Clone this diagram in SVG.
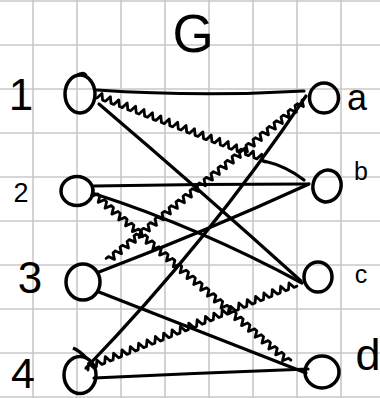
<svg xmlns="http://www.w3.org/2000/svg" width="380" height="398" viewBox="0 0 380 398">
<style>
.grid line{stroke:#c8c8c8;stroke-width:1.6}
.node ellipse,.tick{fill:none;stroke:#000;stroke-width:3.5}
.edge{fill:none;stroke:#000;stroke-width:3.2;stroke-linecap:round}
.wavy{fill:none;stroke:#000;stroke-width:2.8;stroke-linejoin:round;stroke-linecap:round}
.lbl{font-family:"Liberation Sans",Arial,sans-serif;fill:#000;text-anchor:middle}
</style>
<rect width="380" height="398" fill="#fff"/>
<g class="grid">
<line x1="33" y1="0" x2="33" y2="398"/><line x1="77" y1="0" x2="77" y2="398"/><line x1="121" y1="0" x2="121" y2="398"/><line x1="165" y1="0" x2="165" y2="398"/><line x1="209" y1="0" x2="209" y2="398"/><line x1="253" y1="0" x2="253" y2="398"/><line x1="297" y1="0" x2="297" y2="398"/><line x1="341" y1="0" x2="341" y2="398"/>
<line x1="0" y1="1" x2="380" y2="1"/><line x1="0" y1="45" x2="380" y2="45"/><line x1="0" y1="89" x2="380" y2="89"/><line x1="0" y1="133" x2="380" y2="133"/><line x1="0" y1="177" x2="380" y2="177"/><line x1="0" y1="221" x2="380" y2="221"/><line x1="0" y1="265" x2="380" y2="265"/><line x1="0" y1="309" x2="380" y2="309"/><line x1="0" y1="353" x2="380" y2="353"/><line x1="0" y1="397" x2="380" y2="397"/>
</g>
<text class="lbl" x="193" y="52" font-size="53">G</text>
<g id="connectors">
<path class="edge" d="M97,90 Q200,97 304,91"/>
<path class="edge" d="M99,104 Q200,190 301,281"/>
<path class="edge" d="M94,186 Q200,184 308,184"/>
<path class="edge" d="M95,194 Q198,227 302,283"/>
<path class="edge" d="M309,184 Q204,232 99,272"/>
<path class="edge" d="M306,96 Q208,242 86,368"/>
<path class="edge" d="M99,292 Q202,332 306,373"/>
<path class="edge" d="M94,378 Q200,373 308,369"/>
<path class="wavy" transform="translate(97,98) rotate(20.85)" d="M0,0 l3,-6 3,6 3,0 3,-6 3,6 3,0 3,-6 3,6 3,0 3,-6 3,6 3,0 3,-6 3,6 3,0 3,-6 3,6 3,0 3,-6 3,6 3,0 3,-6 3,6 3,0 3,-6 3,6 3,0 3,-6 3,6 3,0 3,-6 3,6 3,0 3,-6 3,6 3,0 3,-6 3,6 3,0 3,-6 3,6 3,0 3,-6 3,6 3,0 3,-6 3,6 3,0 3,-6 3,6 3,0 3,-6 3,6 3,0 3,-6 3,6 3,0 3,-6 3,6 3,0"/>
<path class="edge" d="M264,161 Q286,166 304,180"/>
<path class="wavy" transform="translate(302,100) rotate(141.03)" d="M0,0 l3,-6 3,6 3,0 3,-6 3,6 3,0 3,-6 3,6 3,0 3,-6 3,6 3,0 3,-6 3,6 3,0 3,-6 3,6 3,0 3,-6 3,6 3,0 3,-6 3,6 3,0 3,-6 3,6 3,0 3,-6 3,6 3,0 3,-6 3,6 3,0 3,-6 3,6 3,0 3,-6 3,6 3,0 3,-6 3,6 3,0 3,-6 3,6 3,0 3,-6 3,6 3,0 3,-6 3,6 3,0 3,-6 3,6 3,0 3,-6 3,6 3,0 3,-6 3,6 3,0 3,-6 3,6 3,0 3,-6 3,6 3,0 3,-6 3,6 3,0 3,-6 3,6 3,0 3,-6 3,6 3,0 3,-6 3,6 3,0 3,-6 3,6 3,0 3,-6 3,6 3,0"/>
<path class="wavy" transform="translate(93,190) rotate(40.69)" d="M0,0 l3,6 3,-6 3,0 3,6 3,-6 3,0 3,6 3,-6 3,0 3,6 3,-6 3,0 3,6 3,-6 3,0 3,6 3,-6 3,0 3,6 3,-6 3,0 3,6 3,-6 3,0 3,6 3,-6 3,0 3,6 3,-6 3,0 3,6 3,-6 3,0 3,6 3,-6 3,0 3,6 3,-6 3,0 3,6 3,-6 3,0 3,6 3,-6 3,0 3,6 3,-6 3,0 3,6 3,-6 3,0 3,6 3,-6 3,0 3,6 3,-6 3,0 3,6 3,-6 3,0 3,6 3,-6 3,0 3,6 3,-6 3,0 3,6 3,-6 3,0 3,6 3,-6 3,0 3,6 3,-6 3,0 3,6 3,-6 3,0 3,6 3,-6 3,0 3,6 3,-6 3,0 3,6 3,-6 3,0"/>
<path class="wavy" transform="translate(88,370) rotate(-21.85)" d="M0,0 l3,-6 3,6 3,0 3,-6 3,6 3,0 3,-6 3,6 3,0 3,-6 3,6 3,0 3,-6 3,6 3,0 3,-6 3,6 3,0 3,-6 3,6 3,0 3,-6 3,6 3,0 3,-6 3,6 3,0 3,-6 3,6 3,0 3,-6 3,6 3,0 3,-6 3,6 3,0 3,-6 3,6 3,0 3,-6 3,6 3,0 3,-6 3,6 3,0 3,-6 3,6 3,0 3,-6 3,6 3,0 3,-6 3,6 3,0 3,-6 3,6 3,0 3,-6 3,6 3,0 3,-6 3,6 3,0 3,-6 3,6 3,0 3,-6 3,6 3,0 3,-6 3,6 3,0 3,-6 3,6 3,0"/>
</g>
<g id="node-1" class="node"><ellipse cx="80" cy="94" rx="15" ry="19"/><path class="tick" d="M76,76 Q84,71 86,76"/><text class="lbl" x="21" y="110" font-size="44">1</text></g>
<g id="node-2" class="node"><ellipse cx="77" cy="191" rx="16" ry="14.5"/><text class="lbl" x="21" y="202" font-size="27">2</text></g>
<g id="node-3" class="node"><ellipse cx="83" cy="282" rx="17" ry="18"/><text class="lbl" x="30" y="293" font-size="44">3</text></g>
<g id="node-4" class="node"><ellipse cx="80" cy="375" rx="16" ry="18.5"/><path class="tick" d="M73,348 Q80,351 86,358"/><text class="lbl" x="23" y="388" font-size="43">4</text></g>
<g id="node-a" class="node"><ellipse cx="324" cy="98" rx="14.5" ry="15"/><text class="lbl" x="357" y="110" font-size="36">a</text></g>
<g id="node-b" class="node"><ellipse cx="327" cy="186" rx="14" ry="16" transform="rotate(15 327 186)"/><text class="lbl" x="361" y="180" font-size="25">b</text></g>
<g id="node-c" class="node"><ellipse cx="318" cy="277" rx="14" ry="15"/><text class="lbl" x="361" y="283" font-size="25">c</text></g>
<g id="node-d" class="node"><ellipse cx="322" cy="372" rx="17" ry="16"/><text class="lbl" x="368" y="370" font-size="45">d</text></g>
</svg>
